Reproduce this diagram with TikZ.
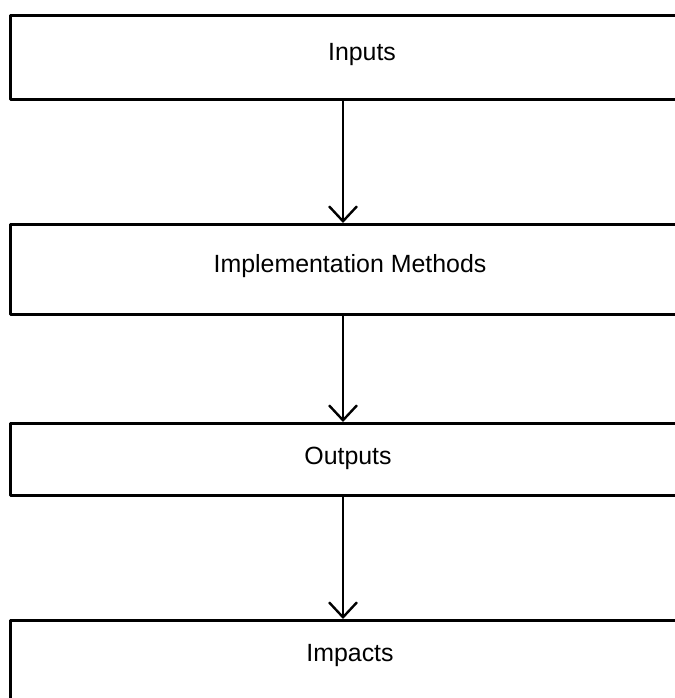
\documentclass[tikz,border=0pt]{standalone}
\usepackage{fontspec}
\setmainfont{Liberation Sans}
\usetikzlibrary{arrows.meta}
\begin{document}
\begin{tikzpicture}[x=1bp,y=-1bp,line join=round]
\tikzset{
  boxstyle/.style={draw, line width=3bp, minimum width=695bp, inner sep=0pt, anchor=north west},
  lbl/.style={font=\fontsize{25}{29}\selectfont, inner sep=0pt},
  arr/.style={line width=2.4bp, -{Straight Barb[length=15bp,width=28bp,line width=2.4bp]}}
}
\clip (0,0) rectangle (675,698);
\fill[white] (0,0) rectangle (675,698);
\node[boxstyle, minimum height=84bp] (b1) at (9,14) {};
\node[boxstyle, minimum height=90bp] (b2) at (9,223) {};
\node[boxstyle, minimum height=72bp] (b3) at (9,422) {};
\node[boxstyle, minimum height=110bp] (b4) at (9,619) {};
\node[lbl] (t1) at (362,55) {Inputs};
\node[lbl] (t2) at (350,266) {Implementation Methods};
\node[lbl] (t3) at (348,458) {Outputs};
\node[lbl] (t4) at (350,656) {Impacts};
\coordinate (ax) at (343,0);
\draw[arr] (b1.south -| ax) -- (b2.north -| ax);
\draw[arr] (b2.south -| ax) -- (b3.north -| ax);
\draw[arr] (b3.south -| ax) -- (b4.north -| ax);
\end{tikzpicture}
\end{document}
